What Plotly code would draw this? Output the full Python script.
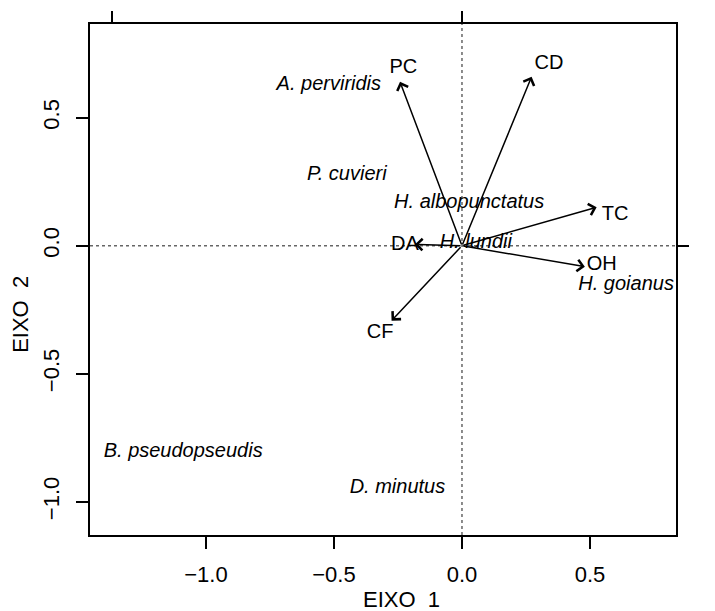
import plotly.graph_objects as go

# ---- data ----
variables = ["PC", "CD", "TC", "OH", "DA", "CF"]
var_x = [-0.242, 0.272, 0.526, 0.480, -0.184, -0.275]
var_y = [0.640, 0.660, 0.150, -0.082, 0.005, -0.293]
var_label_x = [-0.229, 0.340, 0.598, 0.546, -0.223, -0.320]
var_label_y = [0.693, 0.710, 0.120, -0.075, 0.003, -0.342]

species = ["A. perviridis", "P. cuvieri", "H. albopunctatus", "H. lundii",
           "H. goianus", "B. pseudopseudis", "D. minutus"]
sp_x = [-0.520, -0.450, 0.028, 0.054, 0.641, -1.089, -0.252]
sp_y = [0.628, 0.276, 0.166, 0.009, -0.155, -0.805, -0.947]

x_ticks = [-1.0, -0.5, 0.0, 0.5]
x_ticktext = ["\u22121.0", "\u22120.5", "0.0", "0.5"]
y_ticks = [-1.0, -0.5, 0.0, 0.5]
y_ticktext = ["\u22121.0", "\u22120.5", "0.0", "0.5"]
top_ticks = [-1.368, 0.0]
right_ticks = [0.0]
right_ticktext = ["0"]

x_range = [-1.453, 0.836]
y_range = [-1.130, 0.866]

FONT = "Liberation Sans, Arial, Helvetica, sans-serif"

fig = go.Figure()

# species names (italic)
fig.add_trace(go.Scatter(
    x=sp_x, y=sp_y, mode="text", text=species,
    textfont=dict(family=FONT, size=20, color="black", style="italic"),
    textposition="middle center", hoverinfo="skip", showlegend=False))

# variable labels
fig.add_trace(go.Scatter(
    x=var_label_x, y=var_label_y, mode="text", text=variables,
    textfont=dict(family=FONT, size=20, color="black"),
    textposition="middle center", hoverinfo="skip", showlegend=False))

# invisible trace on secondary axes so they render
fig.add_trace(go.Scatter(x=[None], y=[None], xaxis="x2", yaxis="y2",
                         mode="markers", showlegend=False, hoverinfo="skip"))

# dotted reference lines
fig.add_shape(type="line", xref="x", yref="paper", x0=0, x1=0, y0=0, y1=1,
              line=dict(color="#666666", width=1.5, dash="dot"), layer="below")
fig.add_shape(type="line", xref="paper", yref="y", x0=0, x1=1, y0=0, y1=0,
              line=dict(color="#666666", width=1.5, dash="dot"), layer="below")

# arrows from the origin
for vx, vy in zip(var_x, var_y):
    fig.add_annotation(x=vx, y=vy, ax=0, ay=0, xref="x", yref="y",
                       axref="x", ayref="y", text="", showarrow=True,
                       arrowhead=4, arrowsize=1.5, arrowwidth=1.5,
                       arrowcolor="black", standoff=0, startstandoff=0)

# axis titles
fig.add_annotation(text="EIXO  1", xref="paper", yref="paper",
                   x=0.532, y=-0.127, showarrow=False,
                   font=dict(family=FONT, size=22, color="black"),
                   xanchor="center", yanchor="middle")
fig.add_annotation(text="EIXO  2", xref="paper", yref="paper",
                   x=-0.118, y=0.4325, showarrow=False, textangle=-90,
                   font=dict(family=FONT, size=22, color="black"),
                   xanchor="center", yanchor="middle")

axis_common = dict(showgrid=False, zeroline=False, automargin=False,
                   ticks="outside", ticklen=12, tickwidth=1.5, tickcolor="black",
                   tickfont=dict(family=FONT, size=22, color="black"))

fig.update_layout(
    width=715, height=611,
    margin=dict(l=82, r=47, t=16, b=84),
    paper_bgcolor="white", plot_bgcolor="white",
    showlegend=False,
    xaxis=dict(range=x_range, tickvals=x_ticks, ticktext=x_ticktext,
               showline=True, linecolor="black", linewidth=1.5, mirror=True,
               ticklabelstandoff=7, **axis_common),
    yaxis=dict(range=y_range, tickvals=y_ticks, ticktext=y_ticktext,
               showline=True, linecolor="black", linewidth=1.5, mirror=True,
               tickangle=-90, ticklabelstandoff=8, **axis_common),
    xaxis2=dict(range=x_range, overlaying="x", side="top", anchor="y",
                tickvals=top_ticks, showticklabels=False, showline=False,
                **axis_common),
    yaxis2=dict(range=y_range, overlaying="y", side="right", anchor="x",
                tickvals=right_ticks, ticktext=right_ticktext, tickangle=-90,
                showline=False, ticklabelstandoff=8, **axis_common),
)

fig.write_html("out.html")
